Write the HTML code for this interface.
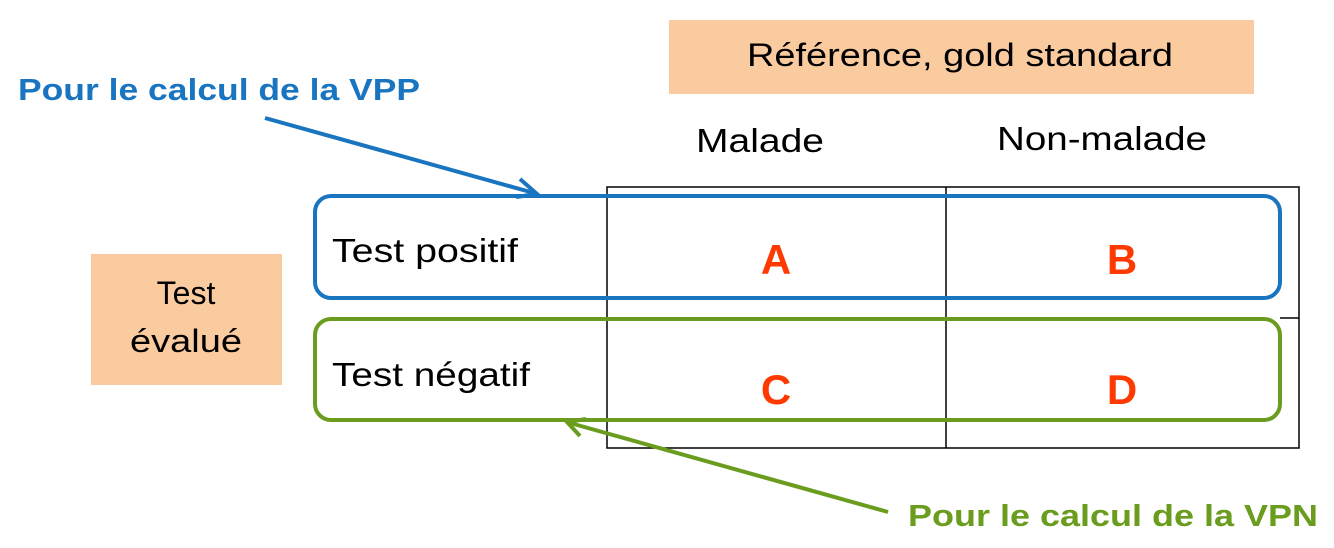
<!DOCTYPE html>
<html><head><meta charset="utf-8"><style>html,body{margin:0;padding:0;background:#fff}svg{display:block}</style></head>
<body>
<svg width="1334" height="548" viewBox="0 0 1334 548" xmlns="http://www.w3.org/2000/svg" font-family="Liberation Sans, sans-serif">
<rect x="669" y="20" width="585" height="74" fill="#FBCBA0"/>
<rect x="91" y="254" width="191" height="131" fill="#FBCBA0"/>
<text x="960" y="66" font-size="32" text-anchor="middle" textLength="426" lengthAdjust="spacingAndGlyphs" fill="#000">Référence, gold standard</text>
<text x="760" y="152" font-size="33" text-anchor="middle" textLength="128" lengthAdjust="spacingAndGlyphs">Malade</text>
<text x="1102" y="150" font-size="33" text-anchor="middle" textLength="210" lengthAdjust="spacingAndGlyphs">Non-malade</text>
<text x="186" y="304" font-size="32" text-anchor="middle">Test</text>
<text x="186" y="352" font-size="32" text-anchor="middle" textLength="112" lengthAdjust="spacingAndGlyphs">évalué</text>
<g stroke="#000" stroke-width="1.5" fill="none">
<rect x="607" y="187" width="692" height="261"/>
<line x1="946" y1="187" x2="946" y2="448"/>
<line x1="1280" y1="318" x2="1299" y2="318"/>
</g>
<rect x="315" y="196" width="965" height="102" rx="16" fill="none" stroke="#1A75C0" stroke-width="4"/>
<rect x="315" y="319" width="965" height="101" rx="16" fill="none" stroke="#6A9C1E" stroke-width="4"/>
<text x="332" y="262" font-size="33" textLength="186" lengthAdjust="spacingAndGlyphs">Test positif</text>
<text x="332" y="386" font-size="33" textLength="198" lengthAdjust="spacingAndGlyphs">Test négatif</text>
<g font-weight="bold" font-size="42" fill="#FF3A00" text-anchor="middle">
<text x="776" y="274">A</text><text x="1122" y="274">B</text>
<text x="776" y="404">C</text><text x="1122" y="404">D</text>
</g>
<text x="18" y="100" font-size="31" font-weight="bold" fill="#1A75C0" textLength="402" lengthAdjust="spacingAndGlyphs">Pour le calcul de la VPP</text>
<text x="908" y="526" font-size="31" font-weight="bold" fill="#6A9C1E" textLength="410" lengthAdjust="spacingAndGlyphs">Pour le calcul de la VPN</text>
<line x1="265" y1="118" x2="534" y2="193" stroke="#1A75C0" stroke-width="4"/>
<polyline points="520,179 537,194 516,197" fill="none" stroke="#1A75C0" stroke-width="4"/>
<line x1="888" y1="512" x2="570" y2="423" stroke="#6A9C1E" stroke-width="4"/>
<polyline points="586,419 567,422 580,436" fill="none" stroke="#6A9C1E" stroke-width="4"/>
</svg>
</body></html>
